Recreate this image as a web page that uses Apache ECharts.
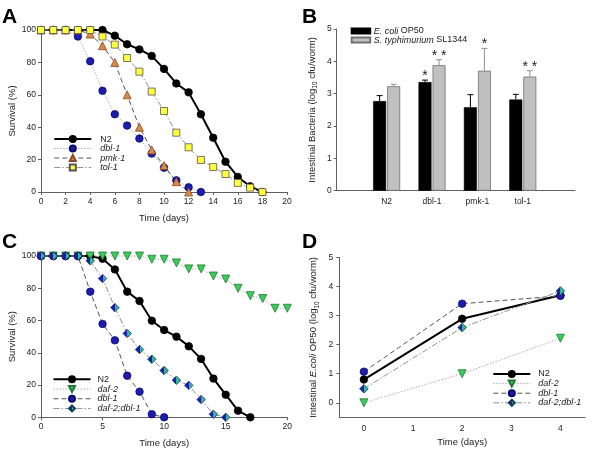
<!DOCTYPE html>
<html><head><meta charset="utf-8">
<script src="https://cdn.jsdelivr.net/npm/echarts@6/dist/echarts.min.js"></script>
<style>html,body{margin:0;padding:0;background:#fff}#c{width:600px;height:450px}</style>
</head><body><div id="c"></div>
<script>
// ---------- Panel A: survival (%) by day ----------
const aN2   = [100,100,100,100,100,100,96.5,91.2,88,84,76,67,61.5,48,33.5,18.7,9.3,3.5,0];
const aDbl1 = [100,100,100,96,80.7,62.5,48,41,33,23.7,15,7.2,2.9,0];
const aPmk1 = [100,100,100,100,97.5,90.3,80,60,40,26,16.3,6.4,0];
const aTol1 = [100,100,100,100,100,96,91,82.7,74.3,62,50,36.6,27.6,19.8,15.4,11.1,5.6,2.7,0];
// ---------- Panel B: intestinal bacteria ----------
const bCats = ['N2','dbl-1','pmk-1','tol-1'];
const bEcoli = [2.77,3.36,2.58,2.82];
const bEcoliErr = [0.17,0.06,0.39,0.16];
const bSal = [3.23,3.88,3.71,3.53];
const bSalErr = [0.06,0.17,0.69,0.18];
const bStarsEcoli = ['','*','',''];
const bStarsSal = ['','* *','*','* *'];
// ---------- Panel C: survival (%) by day ----------
const cN2   = [100,100,100,100,100,98.3,91.7,77.9,72.1,59.9,54.1,50,44,36.2,24,14,4.1,0];
const cDaf2 = [100,100,100,100,100,100,100,100,100,98,98,95.7,92,92,87.6,85.7,80,75.4,73.6,67.6,67.6];
const cDbl1 = [100,100,100,100,77.9,57.9,47.7,25.8,15.9,1.9,0];
const cDafDbl = [100,100,100,100,97,86,68,52,42,36,29,23,19.8,11,1.9,0];
// ---------- Panel D: intestinal E. coli over time ----------
const dDays = [0,2,4];
const dN2 = [0.80,2.89,3.70];
const dDaf2 = [0.0,1.0,2.22];
const dDbl1 = [1.07,3.41,3.68];
const dDafDbl = [0.48,2.59,3.85];
const xTicksD = [0,1,2,3,4];
const yTicksD = [0,1,2,3,4,5];

const FONT = 'Liberation Sans, Arial, sans-serif';
const AX = '#606060';
const byDay = arr => arr.map((v,i)=>[i,v]);
const byX = (xs, ys) => ys.map((v,i)=>[xs[i],v]);

const BLUE = '#1c1cb0', BLUE_B = '#0a0a6a';
const GREEN = '#3ccc5a', GREEN_B = '#1f7a35';
const diamondFill = {type:'linear',x:0,y:0,x2:1,y2:0,colorStops:[
  {offset:0,color:BLUE},{offset:0.5,color:BLUE},{offset:0.5,color:'#33b59b'},{offset:1,color:'#33b59b'}]};

function lineSeries(name, data, xi, sym, size, fill, border, ls, extra) {
  return Object.assign({
    type:'line', name, data, xAxisIndex:xi, yAxisIndex:xi, symbol:sym, symbolSize:size,
    clip:false, animation:false, z: 2,
    itemStyle:{color:fill, borderColor:border, borderWidth:0.8},
    lineStyle:ls, emphasis:{disabled:true}
  }, extra||{});
}
const solidBlack = {color:'#000', width:2, type:'solid'};
const dotted = {color:'#b0b0b0', width:1, type:[1.5,1.5]};
const dashed = {color:'#555', width:1, type:[5,3]};
const dashDot = {color:'#909090', width:1, type:[6,2,1.5,2]};

function valAxis(gi, min, max, interval, extra) {
  return Object.assign({
    type:'value', gridIndex:gi, min, max, interval,
    axisLine:{show:true, onZero:false, lineStyle:{color:AX, width:1}},
    axisTick:{show:true, length:3, inside:false, lineStyle:{color:AX}},
    axisLabel:{fontSize:8.5, color:'#222', fontFamily:FONT, margin:5},
    splitLine:{show:false},
    nameTextStyle:{fontSize:9.5, color:'#222', fontFamily:FONT}
  }, extra||{});
}

function errBars(vals, errs, stars, off, color) {
  return {
    type:'custom', xAxisIndex:1, yAxisIndex:1, animation:false, z:5,
    data: vals.map((v,i)=>[i, v, v+errs[i]]),
    renderItem:(params, api)=>{
      const i = params.dataIndex;
      const p0 = api.coord([api.value(0), api.value(1)]);
      const p1 = api.coord([api.value(0), api.value(2)]);
      const x = p0[0] + off;
      const children = [
        {type:'line', shape:{x1:x,y1:p0[1],x2:x,y2:p1[1]}, style:{stroke:color, lineWidth:1}},
        {type:'line', shape:{x1:x-3,y1:p1[1],x2:x+3,y2:p1[1]}, style:{stroke:color, lineWidth:1}}
      ];
      if (stars[i]) children.push({type:'text', x:x, y:p1[1]-4,
        style:{text:stars[i], fill:'#222', font:'14px '+FONT, align:'center', verticalAlign:'middle'}});
      return {type:'group', children};
    }
  };
}

const legendText = {fontSize:9, fontFamily:FONT, color:'#222', lineHeight:9.5, padding:[0,0,0,4]};
const it = {fontStyle:'italic'};
const strip = n => n.slice(2);
const legLine = {width:'inherit'};

const option = {
  backgroundColor:'#fff',
  animation:false,
  textStyle:{fontFamily:FONT},
  grid:[
    {left:41, top:30, width:246, height:162},
    {left:336.7, top:29, width:238.3, height:161.7},
    {left:41, top:256, width:246.3, height:161.3},
    {left:339.3, top:257.5, width:245.7, height:159.8}
  ],
  xAxis:[
    valAxis(0,0,20,2,{name:'Time (days)', nameLocation:'middle', nameGap:21}),
    valAxis(1,-1.1,4.15,null,{axisTick:{show:false},
      axisLabel:{fontSize:8.5, color:'#222', fontFamily:FONT, margin:6.5, customValues:[0,1,2,3], formatter:v=>bCats[Math.round(v)]}}),
    valAxis(2,0,20,5,{name:'Time (days)', nameLocation:'middle', nameGap:21.5}),
    valAxis(3,-0.5,4.5,null,{name:'Time (days)', nameLocation:'middle', nameGap:20.5,
      axisTick:{show:false},
      axisLabel:{fontSize:8.5, color:'#222', fontFamily:FONT, margin:6.5, customValues:xTicksD}})
  ],
  yAxis:[
    valAxis(0,0,100,20,{name:'Survival (%)', nameLocation:'middle', nameGap:24}),
    valAxis(1,0,5,1,{name:'Intestinal Bacteria (log{s|10} cfu/worm)', nameLocation:'middle', nameGap:18,
      nameTextStyle:{fontSize:9.5, color:'#222', fontFamily:FONT, lineHeight:13,
        rich:{s:{fontSize:6.5, lineHeight:7, verticalAlign:'bottom', color:'#222', fontFamily:FONT}}}}),
    valAxis(2,0,100,20,{name:'Survival (%)', nameLocation:'middle', nameGap:24}),
    valAxis(3,-0.5,5,null,{name:'Intestinal {i|E.coli} OP50 (log{s|10} cfu/worm)', nameLocation:'middle', nameGap:19,
      axisTick:{show:true, length:3, lineStyle:{color:AX}, customValues:yTicksD},
      axisLabel:{fontSize:8.5, color:'#222', fontFamily:FONT, margin:6, customValues:yTicksD},
      nameTextStyle:{fontSize:9.5, color:'#222', fontFamily:FONT, lineHeight:13,
        rich:{s:{fontSize:6.5, lineHeight:7, verticalAlign:'bottom', color:'#222', fontFamily:FONT},
              i:{fontSize:9.5, fontStyle:'italic', color:'#222', fontFamily:FONT, lineHeight:13}}}})
  ],
  legend:[
    {left:53.3, top:134.3, padding:0, orient:'vertical', itemWidth:37, itemHeight:7.5, itemGap:0, selectedMode:false,
     lineStyle:legLine, formatter:strip, textStyle:legendText,
     data:[{name:'A:N2'},{name:'A:dbl-1',textStyle:it},{name:'A:pmk-1',textStyle:it},{name:'A:tol-1',textStyle:it}]},
    {left:350.7, top:26.5, padding:0, orient:'vertical', itemWidth:18.5, itemHeight:5, itemGap:0, selectedMode:false,
     icon:'rect',
     formatter:n=> n.startsWith('E') ? '{i|E. coli} OP50' : '{i|S. typhimurium} SL1344',
     textStyle:{fontSize:9, fontFamily:FONT, color:'#222', lineHeight:9, padding:[0,0,0,-1.5],
       rich:{i:{fontStyle:'italic', fontSize:9, fontFamily:FONT, color:'#222'}}},
     data:['E. coli OP50','S. typhimurium SL1344']},
    {left:52.5, top:374.5, padding:0, orient:'vertical', itemWidth:37, itemHeight:7.5, itemGap:0, selectedMode:false,
     lineStyle:legLine, formatter:strip, textStyle:Object.assign({},legendText,{lineHeight:9.7, padding:[0,0,0,2]}),
     data:[{name:'C:N2'},{name:'C:daf-2',textStyle:it},{name:'C:dbl-1',textStyle:it},{name:'C:daf-2;dbl-1',textStyle:it}]},
    {left:492.3, top:369.2, padding:0, orient:'vertical', itemWidth:37, itemHeight:7.5, itemGap:0, selectedMode:false,
     lineStyle:legLine, formatter:strip, textStyle:Object.assign({},legendText,{lineHeight:9.6, padding:[0,0,0,3]}),
     data:[{name:'D:N2'},{name:'D:daf-2',textStyle:it},{name:'D:dbl-1',textStyle:it},{name:'D:daf-2;dbl-1',textStyle:it}]}
  ],
  graphic:[
    {type:'text', left:2, top:7, style:{text:'A', font:'bold 21px '+FONT, fill:'#000'}},
    {type:'text', left:302, top:7, style:{text:'B', font:'bold 21px '+FONT, fill:'#000'}},
    {type:'text', left:2, top:232, style:{text:'C', font:'bold 21px '+FONT, fill:'#000'}},
    {type:'text', left:302, top:232, style:{text:'D', font:'bold 21px '+FONT, fill:'#000'}}
  ],
  series:[
    // A
    lineSeries('A:N2', byDay(aN2), 0, 'circle', 7.5, '#000', '#000', solidBlack),
    lineSeries('A:dbl-1', byDay(aDbl1), 0, 'circle', 7.5, BLUE, BLUE_B, dotted),
    lineSeries('A:pmk-1', byDay(aPmk1), 0, 'triangle', 8, '#d98a4a', '#8a4a20', dashed),
    lineSeries('A:tol-1', byDay(aTol1), 0, 'rect', 7, '#ffff40', '#555', dashDot),
    // B
    {type:'bar', name:'E. coli OP50', xAxisIndex:1, yAxisIndex:1, barWidth:13, barGap:'8%', animation:false,
     itemStyle:{color:'#000', borderColor:'#000', borderWidth:0.5}, data: bEcoli.map((v,i)=>[i,v])},
    {type:'bar', name:'S. typhimurium SL1344', xAxisIndex:1, yAxisIndex:1, barWidth:13, barGap:'8%', animation:false,
     itemStyle:{color:'#c0c0c0', borderColor:'#707070', borderWidth:0.8}, data: bSal.map((v,i)=>[i,v])},
    errBars(bEcoli, bEcoliErr, bStarsEcoli, -7, '#000'),
    errBars(bSal, bSalErr, bStarsSal, 7, '#909090'),
    // C
    lineSeries('C:N2', byDay(cN2), 2, 'circle', 7.5, '#000', '#000', solidBlack),
    lineSeries('C:daf-2', byDay(cDaf2), 2, 'triangle', 8, GREEN, GREEN_B, dotted, {symbolRotate:180}),
    lineSeries('C:dbl-1', byDay(cDbl1), 2, 'circle', 7.5, BLUE, BLUE_B, dashed),
    lineSeries('C:daf-2;dbl-1', byDay(cDafDbl), 2, 'diamond', 8.5, diamondFill, '#1a3a60', dashDot),
    // D
    lineSeries('D:N2', byX(dDays,dN2), 3, 'circle', 7.5, '#000', '#000', solidBlack),
    lineSeries('D:daf-2', byX(dDays,dDaf2), 3, 'triangle', 8, GREEN, GREEN_B, dotted, {symbolRotate:180}),
    lineSeries('D:dbl-1', byX(dDays,dDbl1), 3, 'circle', 7.5, BLUE, BLUE_B, dashed),
    lineSeries('D:daf-2;dbl-1', byX(dDays,dDafDbl), 3, 'diamond', 8.5, diamondFill, '#1a3a60', dashDot)
  ]
};
const chart = echarts.init(document.getElementById('c'), null, {renderer:'canvas'});
chart.setOption(option);
</script>
</body></html>
